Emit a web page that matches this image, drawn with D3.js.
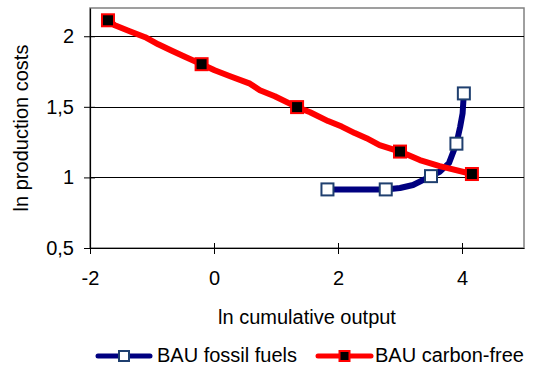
<!DOCTYPE html>
<html>
<head>
<meta charset="utf-8">
<script src="https://cdn.jsdelivr.net/npm/d3@7"></script>
<style>
  body { margin: 0; background: #fff; }
  text { font-family: "Liberation Sans", Arial, sans-serif; fill: #000; }
</style>
</head>
<body>
<div id="chart"></div>
<script>
// chart size
var svgWidth = 534;
var svgHeight = 368;

var margin = { top: 8, right: 10, bottom: 120, left: 90 };
var width = 524 - margin.left;
var height = 248 - margin.top;

// data
var fossilX = [1.83, 2.77, 3.00, 3.21, 3.50, 3.64, 3.79, 3.91, 3.97, 4.01, 4.03];
var fossilY = [0.915, 0.915, 0.925, 0.946, 1.009, 1.040, 1.101, 1.239, 1.358, 1.455, 1.595];
var fossilMarks = [0, 1, 4, 7, 10];

var freeX = [-1.71, -1.60, -1.36, -1.11, -0.90, -0.68, -0.47, -0.20, 0.01, 0.26, 0.58, 0.74, 0.98,
  1.34, 1.55, 1.84, 2.06, 2.27, 2.46, 2.67, 3.00, 3.32, 3.64, 4.16];
var freeY = [2.113, 2.078, 2.035, 1.993, 1.943, 1.897, 1.855, 1.802, 1.759, 1.717, 1.664, 1.618, 1.575,
  1.498, 1.462, 1.399, 1.360, 1.314, 1.278, 1.229, 1.183, 1.123, 1.080, 1.024];
var freeMarks = [0, 7, 13, 20, 23];

var xTicks = [-2, 0, 2, 4];
var yTicks = [0.5, 1, 1.5, 2];

var svg = d3.select("#chart")
  .append("svg")
  .attr("width", svgWidth)
  .attr("height", svgHeight);

var chartGroup = svg.append("g")
  .attr("transform", `translate(${margin.left}, ${margin.top})`);

var xScale = d3.scaleLinear().domain([-2, 5]).range([0, width]);
var yScale = d3.scaleLinear().domain([0.5, 2.2]).range([height, 0]);

// plot frame
chartGroup.append("rect")
  .attr("x", 0).attr("y", 0)
  .attr("width", width).attr("height", height)
  .attr("fill", "none")
  .attr("stroke", "#808080")
  .attr("stroke-width", 1.5);

// gridlines
chartGroup.selectAll(".grid")
  .data(yTicks.filter(d => d > 0.5))
  .enter().append("line")
  .attr("x1", 0).attr("x2", width)
  .attr("y1", d => Math.round(yScale(d)) + 0.5)
  .attr("y2", d => Math.round(yScale(d)) + 0.5)
  .attr("stroke", "#000")
  .attr("stroke-width", 1);

// axes (ticks cross the axis line)
var bottomAxis = d3.axisBottom(xScale).tickValues(xTicks).tickSize(6).tickSizeOuter(0)
  .tickFormat(d => String(d));
var leftAxis = d3.axisLeft(yScale).tickValues(yTicks).tickSize(6).tickSizeOuter(0)
  .tickFormat(d => String(d).replace(".", ","));

var xg = chartGroup.append("g")
  .attr("transform", `translate(0, ${height})`)
  .call(bottomAxis);
var yg = chartGroup.append("g").call(leftAxis);

[xg, yg].forEach(function(g) {
  g.select(".domain").attr("stroke", "#000").attr("stroke-width", 1.2);
  g.selectAll(".tick line").attr("stroke", "#000");
  g.selectAll(".tick text")
    .attr("font-size", "20px")
    .attr("font-family", "Liberation Sans, Arial, sans-serif");
});
xg.selectAll(".tick line").attr("y1", -5);
yg.selectAll(".tick line").attr("x1", 5);
xg.selectAll(".tick text").attr("y", 23).attr("dy", "0.71em");
yg.selectAll(".tick text").attr("x", -16);

// lines
var fossilData = fossilX.map((x, i) => [x, fossilY[i]]);
var freeData = freeX.map((x, i) => [x, freeY[i]]);

var line = d3.line()
  .x(d => xScale(d[0]))
  .y(d => yScale(d[1]));

chartGroup.append("path")
  .datum(fossilData)
  .attr("d", line)
  .attr("fill", "none")
  .attr("stroke", "#000080")
  .attr("stroke-width", 6)
  .attr("stroke-linejoin", "round");

chartGroup.append("path")
  .datum(freeData)
  .attr("d", line)
  .attr("fill", "none")
  .attr("stroke", "#ff0000")
  .attr("stroke-width", 6)
  .attr("stroke-linejoin", "round");

// markers
var ms = 12;
chartGroup.selectAll(".fmark")
  .data(fossilMarks.map(i => fossilData[i]))
  .enter().append("rect")
  .attr("x", d => xScale(d[0]) - ms / 2)
  .attr("y", d => yScale(d[1]) - ms / 2)
  .attr("width", ms).attr("height", ms)
  .attr("fill", "#fff")
  .attr("stroke", "#1f3f6f")
  .attr("stroke-width", 2);

chartGroup.selectAll(".cmark")
  .data(freeMarks.map(i => freeData[i]))
  .enter().append("rect")
  .attr("x", d => xScale(d[0]) - ms / 2)
  .attr("y", d => yScale(d[1]) - ms / 2)
  .attr("width", ms).attr("height", ms)
  .attr("fill", "#000")
  .attr("stroke", "#ff0000")
  .attr("stroke-width", 2);

// axis titles
svg.append("text")
  .attr("x", 307)
  .attr("y", 324)
  .attr("text-anchor", "middle")
  .attr("font-size", "20px")
  .text("ln cumulative output");

svg.append("text")
  .attr("transform", "translate(28, 128) rotate(-90)")
  .attr("text-anchor", "middle")
  .attr("font-size", "20px")
  .text("ln production costs");

// legend
var legend = [
  { name: "BAU fossil fuels", color: "#000080", fill: "#fff", stroke: "#1f3f6f", x0: 98, x1: 150, tx: 157 },
  { name: "BAU carbon-free", color: "#ff0000", fill: "#000", stroke: "#ff0000", x0: 318, x1: 371, tx: 375 }
];
var ly = 356;
legend.forEach(function(l) {
  svg.append("line")
    .attr("x1", l.x0).attr("x2", l.x1)
    .attr("y1", ly).attr("y2", ly)
    .attr("stroke", l.color)
    .attr("stroke-width", 5)
    .attr("stroke-linecap", "round");
  svg.append("rect")
    .attr("x", (l.x0 + l.x1) / 2 - 5)
    .attr("y", ly - 5)
    .attr("width", 10).attr("height", 10)
    .attr("fill", l.fill)
    .attr("stroke", l.stroke)
    .attr("stroke-width", 2);
  svg.append("text")
    .attr("x", l.tx)
    .attr("y", 362)
    .attr("font-size", "20px")
    .text(l.name);
});
</script>
</body>
</html>
